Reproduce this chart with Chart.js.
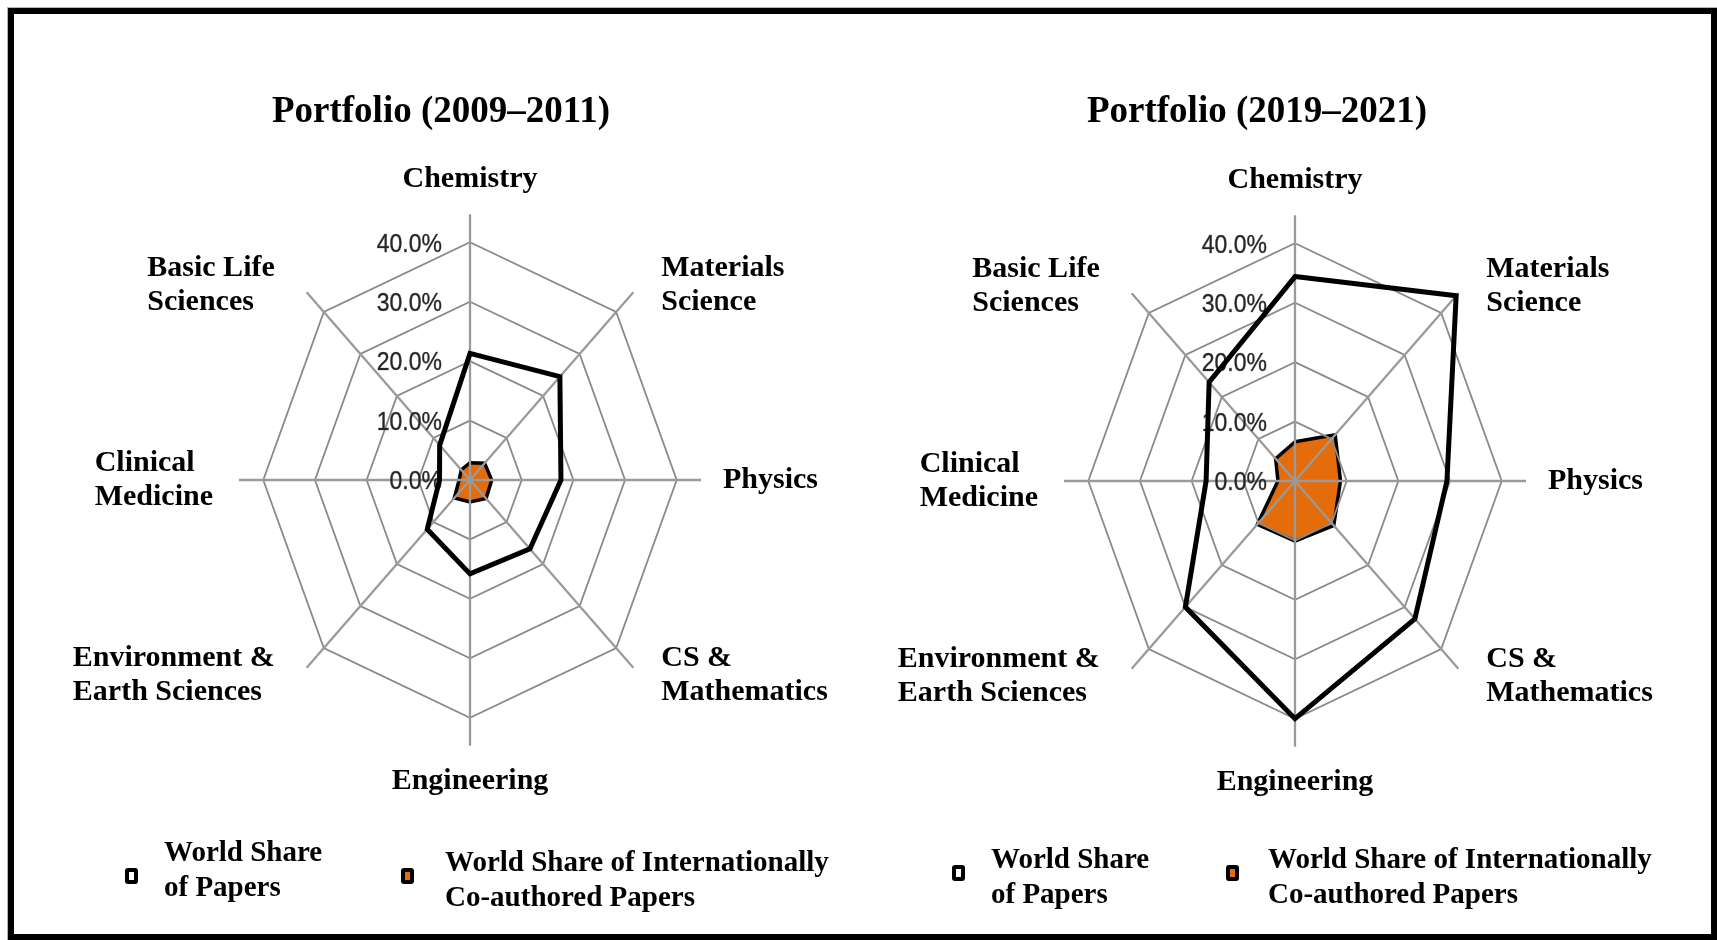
<!DOCTYPE html>
<html>
<head>
<meta charset="utf-8">
<script src="https://cdn.jsdelivr.net/npm/chart.js@4/dist/chart.umd.min.js"></script>
<style>
  html, body { margin: 0; padding: 0; background: #fff; }
  body { width: 1717px; height: 940px; position: relative; overflow: hidden; }
  #frame { position: absolute; left: 8px; top: 8px; width: 1709px; height: 932px; box-sizing: border-box;
           border: 6px solid #000; box-shadow: 0 0 0 1px #b4b4b4; }
  canvas { position: absolute; top: 0; }
  .title { position: absolute; width: 600px; text-align: center; font: bold 37px "Liberation Serif", "Times New Roman", serif;
           line-height: 40px; white-space: nowrap; color: #000; }
  .leg { position: absolute; font: bold 29px "Liberation Serif", "Times New Roman", serif; line-height: 35px;
         white-space: nowrap; color: #000; }
  .mk { position: absolute; width: 13px; height: 16px; box-sizing: border-box; border: 4px solid #000; border-radius: 3px; }
</style>
</head>
<body>
<div id="frame"></div>
<script>
// ---------------- data ----------------
const categories = [
  ['Chemistry'],
  ['Materials', 'Science'],
  ['Physics'],
  ['CS &', 'Mathematics'],
  ['Engineering'],
  ['Environment &', 'Earth Sciences'],
  ['Clinical', 'Medicine'],
  ['Basic Life', 'Sciences']
];
const seriesNames = [
  ['World Share', 'of Papers'],
  ['World Share of Internationally', 'Co-authored Papers']
];
const panelTitles = ['Portfolio (2009–2011)', 'Portfolio (2019–2021)'];
const tickValues = [0, 10, 20, 30, 40];
const axisMax = 44.7;

const worldShare2009 = [21.3, 24.6, 17.6, 16.4, 15.8, 11.7, 5.9, 8.3];
const intlShare2009  = [2.9, 4.0, 4.2, 4.4, 3.7, 4.3, 2.1, 2.4];
const worldShare2019 = [34.4, 44.1, 29.4, 32.8, 40.0, 30.0, 17.2, 23.5];
const intlShare2019  = [6.6, 11.0, 8.8, 10.6, 10.1, 10.3, 3.3, 5.3];

// ---------------- styling / layout ----------------
const STRETCH_Y = 1.15;          // the original artwork is stretched vertically
const ORANGE = '#E46C0A';
const LABEL_FONT = 'bold 30px "Liberation Serif", "Times New Roman", serif';
const LABEL_LINE = 34;
const LABEL_PAD_SIDE = 26, LABEL_PAD_EXTRA = 27;
const TICK_FONT = '23px "Liberation Sans", Arial, sans-serif';
const TICK_GAP = 28;

const panels = [
  { left: 0,   width: 860, padding: { left: 239, right: 159, top: 249, bottom: 229 },
    world: worldShare2009, intl: intlShare2009, title: panelTitles[0], titleCenter: 441,
    legend: [{ mk: [125, 868], txt: [164, 834] }, { mk: [401, 868], txt: [445, 844] }] },
  { left: 858, width: 859, padding: { left: 206, right: 191, top: 250, bottom: 228 },
    world: worldShare2019, intl: intlShare2019, title: panelTitles[1], titleCenter: 1257,
    legend: [{ mk: [952, 865], txt: [991, 841] }, { mk: [1226, 865], txt: [1268, 841] }] }
];

// ---------------- radial scale with vertical stretch ----------------
const RL = Chart.RadialLinearScale || Chart.registry.getScale('radialLinear');
const origGPP = RL.prototype.getPointPosition;
RL.prototype.getPointPosition = function (index, distance, additionalAngle = 0) {
  const p = origGPP.call(this, index, distance, additionalAngle);
  return { x: p.x, y: this.yCenter + (p.y - this.yCenter) * STRETCH_Y, angle: p.angle };
};
const origDrawGrid = RL.prototype.drawGrid;
RL.prototype.drawGrid = function (area) {
  if (this._gridNow) origDrawGrid.call(this, area);
};

function drawTickLabels(chart) {
  const s = chart.scales.r, ctx = chart.ctx;
  ctx.save();
  ctx.font = TICK_FONT;
  ctx.fillStyle = '#262626';
  ctx.strokeStyle = 'rgba(38,38,38,0.5)';
  ctx.lineWidth = 0.6;
  ctx.textAlign = 'right';
  ctx.textBaseline = 'middle';
  s.ticks.forEach(t => {
    const d = s.getDistanceFromCenterForValue(t.value);
    ctx.save();
    ctx.translate(s.xCenter - TICK_GAP, s.yCenter - d * STRETCH_Y + 2);
    ctx.scale(1, STRETCH_Y);
    ctx.fillText(t.label, 0, 0);
    ctx.strokeText(t.label, 0, 0);
    ctx.restore();
  });
  ctx.restore();
}

const gridOverFill = {
  id: 'gridOverFill',
  afterDatasetDraw(chart, args) {
    if (args.index !== 1) return;
    const s = chart.scales.r;
    s._gridNow = true;
    s.drawGrid(chart.chartArea);
    s._gridNow = false;
    drawTickLabels(chart);
  }
};

const categoryLabels = {
  id: 'categoryLabels',
  afterDraw(chart) {
    const s = chart.scales.r, ctx = chart.ctx;
    ctx.save();
    ctx.font = LABEL_FONT;
    ctx.fillStyle = '#000';
    ctx.textBaseline = 'middle';
    chart.data.labels.forEach((lab, i) => {
      const lines = Array.isArray(lab) ? lab : [lab];
      const n = lines.length;
      const a = s.getIndexAngle(i);
      const sin = Math.sin(a), cos = Math.cos(a);
      const pad = LABEL_PAD_SIDE + LABEL_PAD_EXTRA * Math.abs(cos);
      const p = origGPP.call(s, i, s.drawingArea + pad);
      const blockH = n * LABEL_LINE;
      if (Math.abs(sin) < 1e-3) {
        const cy = cos > 0 ? p.y - blockH / 2 : p.y + blockH / 2;
        ctx.textAlign = 'center';
        lines.forEach((l, j) => ctx.fillText(l, p.x, cy + (j - (n - 1) / 2) * LABEL_LINE));
      } else {
        const blockW = Math.max(...lines.map(l => ctx.measureText(l).width));
        const left = sin > 0 ? p.x - 4 : p.x - blockW;
        ctx.textAlign = 'left';
        lines.forEach((l, j) => ctx.fillText(l, left, p.y + (j - (n - 1) / 2) * LABEL_LINE));
      }
    });
    ctx.restore();
  }
};

// ---------------- build panels ----------------
panels.forEach(pn => {
  const cv = document.createElement('canvas');
  cv.width = pn.width; cv.height = 940;
  cv.style.left = pn.left + 'px';
  document.body.appendChild(cv);

  const t = document.createElement('div');
  t.className = 'title';
  t.style.left = (pn.titleCenter - 300) + 'px';
  t.style.top = '90px';
  t.textContent = pn.title;
  document.body.appendChild(t);

  pn.legend.forEach((lg, k) => {
    const m = document.createElement('div');
    m.className = 'mk';
    m.style.left = lg.mk[0] + 'px'; m.style.top = lg.mk[1] + 'px';
    m.style.background = k === 0 ? '#fff' : ORANGE;
    document.body.appendChild(m);
    const tx = document.createElement('div');
    tx.className = 'leg';
    tx.style.left = lg.txt[0] + 'px'; tx.style.top = lg.txt[1] + 'px';
    tx.innerHTML = seriesNames[k].join('<br>');
    document.body.appendChild(tx);
  });

  new Chart(cv.getContext('2d'), {
    type: 'radar',
    data: {
      labels: categories,
      datasets: [
        { label: seriesNames[0].join(' '), data: pn.world, borderColor: '#000', borderWidth: 5,
          backgroundColor: 'rgba(0,0,0,0)', fill: false, pointRadius: 0, borderJoinStyle: 'miter', clip: false },
        { label: seriesNames[1].join(' '), data: pn.intl, borderColor: '#000', borderWidth: 3.5,
          backgroundColor: ORANGE, fill: 'origin', pointRadius: 0, borderJoinStyle: 'miter', clip: false }
      ]
    },
    options: {
      responsive: false,
      animation: false,
      devicePixelRatio: 1,
      layout: { padding: pn.padding },
      plugins: { legend: { display: false }, tooltip: { enabled: false }, title: { display: false } },
      elements: { line: { tension: 0 } },
      scales: {
        r: {
          min: 0,
          max: axisMax,
          startAngle: 0,
          afterBuildTicks: (s) => { s.ticks = tickValues.map(v => ({ value: v })); },
          ticks: { display: false, callback: (v) => Number(v).toFixed(1) + '%' },
          grid: { color: '#8a8a8a', lineWidth: 1.8 },
          angleLines: { color: '#9a9a9a', lineWidth: 2.3 },
          pointLabels: { display: false }
        }
      }
    },
    plugins: [gridOverFill, categoryLabels]
  });
});
</script>
</body>
</html>
